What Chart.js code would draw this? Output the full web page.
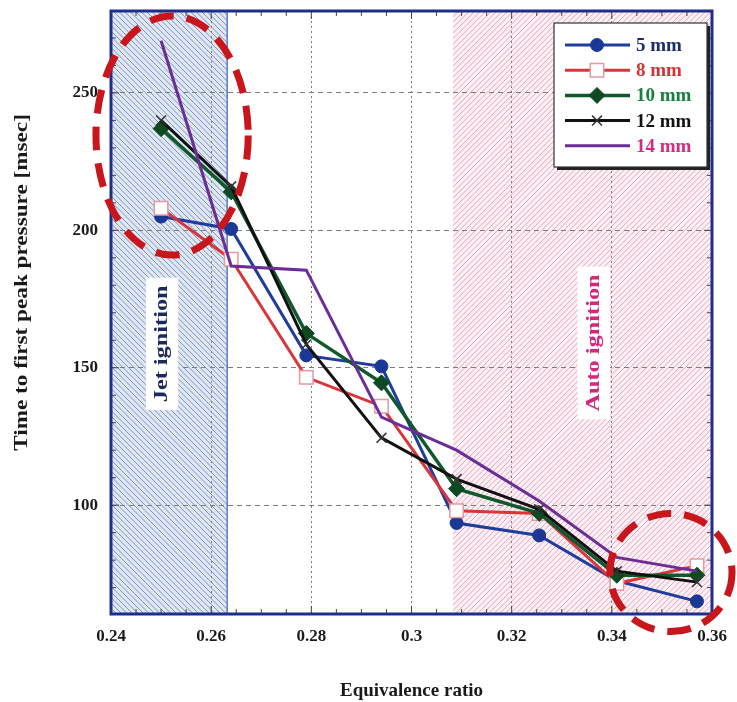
<!DOCTYPE html>
<html>
<head>
<meta charset="utf-8">
<title>Time to first peak pressure vs equivalence ratio</title>
<script src="https://cdn.jsdelivr.net/npm/chart.js@4.4.1/dist/chart.umd.min.js"></script>
<style>
  html,body{margin:0;padding:0;background:#fff}
  #wrap{width:737px;height:702px}
</style>
</head>
<body>
<div id="wrap"><canvas id="chart-ttp" width="737" height="702"></canvas></div>
<script>
'use strict';

// equivalence ratio of each run
const phi = [0.25, 0.264, 0.279, 0.294, 0.309, 0.3255, 0.341, 0.357];

// time to first peak pressure [msec], one list per nozzle diameter
const t5mm  = [205, 200.5, 154.5, 150.5, 93.5, 89, 72.5, 65];
const t8mm  = [208, 189.5, 146.5, 136, 98, 97, 71.5, 78];
const t10mm = [237, 214, 162.5, 144.5, 106, 97, 74.5, 74.5];
const t12mm = [240, 216, 158.5, 124.5, 109.5, 98.5, 76, 72];
const t14mm = [269, 187, 185.5, 132, 120, 101.5, 81, 76];

const seriesNames = ['5 mm', '8 mm', '10 mm', '12 mm', '14 mm'];

const xTicks = [0.24, 0.26, 0.28, 0.3, 0.32, 0.34, 0.36];
const yTicks = [100, 150, 200, 250];

// ignition regimes, bounds in equivalence ratio
const jetZone  = [0.24, 0.2632];
const autoZone = [0.3083, 0.36];

const SERIF = '"Liberation Serif", "DejaVu Serif", serif';
const pts = arr => phi.map((x,i)=>({x, y:arr[i]}));

function drawMarker(ctx, style, x, y, r, fill, stroke, lw) {
  ctx.save();
  ctx.fillStyle = fill; ctx.strokeStyle = stroke; ctx.lineWidth = lw;
  ctx.beginPath();
  if (style==='circle') ctx.arc(x, y, r, 0, Math.PI*2);
  else if (style==='rect') { const s = r*Math.SQRT1_2; ctx.rect(x-s, y-s, 2*s, 2*s); }
  else if (style==='rectRot') { ctx.moveTo(x-r,y); ctx.lineTo(x,y-r); ctx.lineTo(x+r,y); ctx.lineTo(x,y+r); ctx.closePath(); }
  else if (style==='crossRot') { const s=r*0.707; ctx.moveTo(x-s,y-s); ctx.lineTo(x+s,y+s); ctx.moveTo(x+s,y-s); ctx.lineTo(x-s,y+s); }
  if (style!=='crossRot') ctx.fill();
  if (lw>0) ctx.stroke();
  ctx.restore();
}

function hatch(ctx, area, x0, x1, bg, fg, dir) {
  const h = area.bottom - area.top;
  ctx.save();
  ctx.beginPath(); ctx.rect(x0, area.top, x1-x0, h); ctx.clip();
  ctx.fillStyle = bg; ctx.fillRect(x0, area.top, x1-x0, h);
  ctx.strokeStyle = fg; ctx.lineWidth = 1;
  ctx.beginPath();
  for (let s = x0 - h; s < x1 + h; s += 5.5) {
    if (dir>0) { ctx.moveTo(s, area.bottom); ctx.lineTo(s+h, area.top); }
    else { ctx.moveTo(s, area.top); ctx.lineTo(s+h, area.bottom); }
  }
  ctx.stroke();
  ctx.restore();
}

// vertical text, stretched along its length like the printed figure
function upText(ctx, text, x, y, size, color, stretch, boxColor) {
  ctx.save();
  ctx.translate(x, y);
  ctx.rotate(-Math.PI/2);
  ctx.scale(stretch, 1);
  ctx.font = `bold ${size}px ${SERIF}`;
  ctx.textAlign = 'center'; ctx.textBaseline = 'middle';
  if (boxColor) {
    const w = ctx.measureText(text).width;
    ctx.fillStyle = boxColor;
    ctx.fillRect(-w/2-6, -size*0.85, w+12, size*1.7);
  }
  ctx.fillStyle = color;
  ctx.fillText(text, 0, 0);
  ctx.restore();
}

const zonesPlugin = {
  id:'zones',
  beforeDraw(chart) {
    const {ctx, chartArea:a, scales:{x}} = chart;
    ctx.save();
    ctx.fillStyle = '#fff'; ctx.fillRect(0, 0, chart.width, chart.height);
    ctx.restore();
    const j1 = x.getPixelForValue(jetZone[1]);
    hatch(ctx, a, x.getPixelForValue(jetZone[0]), j1, '#dfe7f2', '#7f94bd', -1);
    hatch(ctx, a, x.getPixelForValue(autoZone[0]), x.getPixelForValue(autoZone[1]), '#fcf0f5', '#e3a6bf', 1);
    ctx.save();
    ctx.strokeStyle = '#5b7cc0'; ctx.lineWidth = 1.5;
    ctx.beginPath(); ctx.moveTo(j1, a.top); ctx.lineTo(j1, a.bottom); ctx.stroke();
    ctx.restore();
  }
};

const labelsPlugin = {
  id:'zoneLabels',
  beforeDatasetsDraw(chart) {
    const {ctx, scales:{x, y}} = chart;
    upText(ctx, 'Jet ignition', x.getPixelForValue(0.2502), y.getPixelForValue(158.7), 19, '#1b2a5c', 1.28, '#fff');
    upText(ctx, 'Auto ignition', x.getPixelForValue(0.3364), y.getPixelForValue(159), 19, '#d4287a', 1.28, '#fff');
  },
  afterDraw(chart) {
    const {ctx, chartArea:a} = chart;
    upText(ctx, 'Time to first peak pressure [msec]', 22, (a.top+a.bottom)/2 - 30, 19, '#1a1a1a', 1.22, null);
  }
};

// plot frame with inward tick marks on all four sides
const framePlugin = {
  id:'frame',
  afterDatasetsDraw(chart) {
    const {ctx, chartArea:a, scales:{x, y}} = chart;
    ctx.save();
    ctx.strokeStyle = '#444'; ctx.lineWidth = 1;
    ctx.beginPath();
    for (let k = 0; k <= 24; k++) {
      const v = 0.24 + k*0.005, px = x.getPixelForValue(v), len = k%4===0 ? 8 : 5;
      ctx.moveTo(px, a.bottom); ctx.lineTo(px, a.bottom-len);
      ctx.moveTo(px, a.top); ctx.lineTo(px, a.top+len);
    }
    for (let v = 70; v <= 270; v += 10) {
      const py = y.getPixelForValue(v), len = v%50===0 ? 8 : 5;
      ctx.moveTo(a.left, py); ctx.lineTo(a.left+len, py);
      ctx.moveTo(a.right, py); ctx.lineTo(a.right-len, py);
    }
    ctx.stroke();
    ctx.strokeStyle = '#1d2f8a'; ctx.lineWidth = 3;
    ctx.strokeRect(a.left, a.top, a.right-a.left, a.bottom-a.top);
    ctx.restore();
  }
};

const legendPlugin = {
  id:'boxLegend',
  afterDraw(chart) {
    const ctx = chart.ctx;
    const bx = 554, by = 23, bw = 153, bh = 144;
    ctx.save();
    ctx.fillStyle = '#222'; ctx.fillRect(bx+3, by+3, bw, bh);
    ctx.fillStyle = '#fff'; ctx.fillRect(bx, by, bw, bh);
    ctx.strokeStyle = '#333'; ctx.lineWidth = 1.2; ctx.strokeRect(bx, by, bw, bh);
    ctx.font = `bold 19px ${SERIF}`; ctx.textBaseline = 'middle';
    chart.data.datasets.forEach((ds, i) => {
      const ry = by + 22 + i*25.2;
      ctx.strokeStyle = ds.borderColor; ctx.lineWidth = ds.borderWidth;
      ctx.beginPath(); ctx.moveTo(bx+11, ry); ctx.lineTo(bx+76, ry); ctx.stroke();
      if (ds.pointRadius > 0) drawMarker(ctx, ds.pointStyle, bx+43, ry, ds.pointRadius, ds.pointBackgroundColor, ds.pointBorderColor, ds.pointBorderWidth);
      ctx.fillStyle = ds.textColor;
      ctx.fillText(ds.label, bx+82, ry+1);
    });
    ctx.restore();
  }
};

// dashed red rings around the two ends of the curves
const ringsPlugin = {
  id:'rings',
  afterDraw(chart) {
    const {ctx, scales:{x, y}} = chart;
    const rings = [[0.2522, 234.5, 0.0152, 43.5], [0.3518, 75.5, 0.0122, 21.5]];
    ctx.save();
    ctx.strokeStyle = '#c8161c'; ctx.lineWidth = 7; ctx.setLineDash([24, 13]);
    rings.forEach(([cx, cy, rx, ry]) => {
      const px = x.getPixelForValue(cx), py = y.getPixelForValue(cy);
      const prx = x.getPixelForValue(cx+rx) - px, pry = py - y.getPixelForValue(cy+ry);
      ctx.beginPath(); ctx.ellipse(px, py, prx, pry, 0, 0, Math.PI*2); ctx.stroke();
    });
    ctx.restore();
  }
};

const tickFont = {family:SERIF, size:17, weight:'bold'};

new Chart(document.getElementById('chart-ttp'), {
  type:'line',
  data:{
    datasets:[
      {label:seriesNames[0], data:pts(t5mm), order:5, borderColor:'#213d9c', borderWidth:3, pointStyle:'circle', pointRadius:6.5,
       pointBackgroundColor:'#1c3896', pointBorderColor:'#1c3896', pointBorderWidth:1, textColor:'#1c2d6e'},
      {label:seriesNames[1], data:pts(t8mm), order:4, borderColor:'#d9363c', borderWidth:3, pointStyle:'rect', pointRadius:9.5,
       pointBackgroundColor:'#ffffff', pointBorderColor:'#e49a9e', pointBorderWidth:1.5, textColor:'#d33238'},
      {label:seriesNames[2], data:pts(t10mm), order:3, borderColor:'#10592b', borderWidth:3.5, pointStyle:'rectRot', pointRadius:8,
       pointBackgroundColor:'#0d4a22', pointBorderColor:'#0d4a22', pointBorderWidth:1, textColor:'#17803c'},
      {label:seriesNames[3], data:pts(t12mm), order:2, borderColor:'#111111', borderWidth:3, pointStyle:'crossRot', pointRadius:7,
       pointBackgroundColor:'#111111', pointBorderColor:'#333333', pointBorderWidth:1.5, textColor:'#111111'},
      {label:seriesNames[4], data:pts(t14mm), order:1, borderColor:'#6b2d96', borderWidth:3, pointStyle:'circle', pointRadius:0,
       pointBackgroundColor:'#6b2d96', pointBorderColor:'#6b2d96', pointBorderWidth:0, textColor:'#d42c80'}
    ]
  },
  options:{
    responsive:false, animation:false, devicePixelRatio:1,
    layout:{padding:{top:10, right:25, left:0, bottom:0}},
    plugins:{legend:{display:false}, tooltip:{enabled:false}},
    elements:{line:{tension:0}},
    scales:{
      x:{
        type:'linear', min:0.24, max:0.36,
        afterFit:s=>{ s.height = 88; s.paddingLeft = 0; s.paddingRight = 0; },
        afterBuildTicks:s=>{ s.ticks = xTicks.map(v=>({value:v})); },
        grid:{color:'#7d7d7d', lineWidth:1, drawTicks:false},
        border:{display:false, dash:[2,3]},
        ticks:{padding:12, color:'#1a1a1a', font:tickFont, callback:v=>String(+v.toFixed(2))},
        title:{display:true, text:'Equivalence ratio', color:'#1a1a1a', font:{family:SERIF, size:19, weight:'bold'}, padding:{top:0, bottom:0}}
      },
      y:{
        type:'linear', min:60.4, max:279.8,
        afterFit:s=>{ s.width = 111; s.paddingTop = 0; s.paddingBottom = 0; },
        afterBuildTicks:s=>{ s.ticks = yTicks.map(v=>({value:v})); },
        grid:{color:'#7d7d7d', lineWidth:1, drawTicks:false},
        border:{display:false, dash:[5,4]},
        ticks:{padding:13, color:'#1a1a1a', font:tickFont}
      }
    }
  },
  plugins:[zonesPlugin, labelsPlugin, framePlugin, legendPlugin, ringsPlugin]
});
</script>
</body>
</html>
